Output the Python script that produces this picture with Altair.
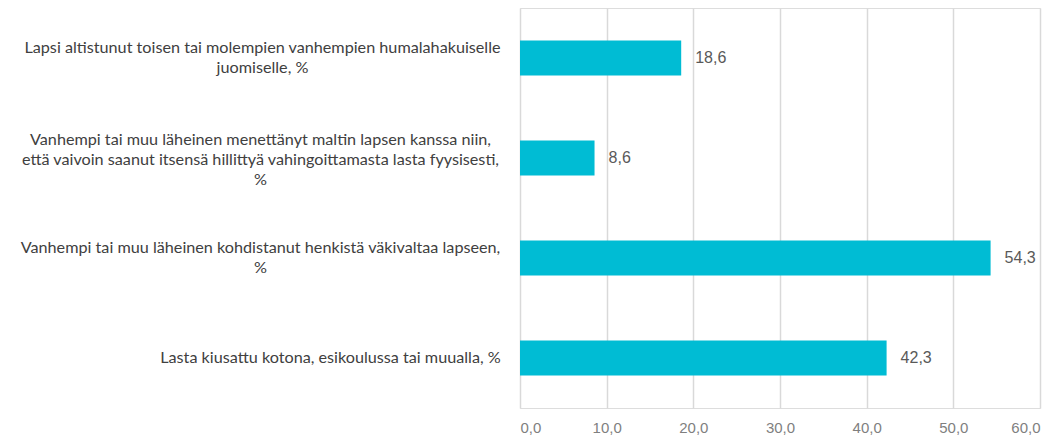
import altair as alt
import pandas as pd

categories = [
    "Lapsi altistunut toisen tai molempien vanhempien humalahakuiselle\njuomiselle, %",
    "Vanhempi tai muu läheinen menettänyt maltin lapsen kanssa niin,\nettä vaivoin saanut itsensä hillittyä vahingoittamasta lasta fyysisesti,\n%",
    "Vanhempi tai muu läheinen kohdistanut henkistä väkivaltaa lapseen,\n%",
    "Lasta kiusattu kotona, esikoulussa tai muualla, %",
]
values = [18.6, 8.6, 54.3, 42.3]
x_ticks = [0, 10, 20, 30, 40, 50, 60]

df = pd.DataFrame({"cat": categories, "val": values})

LINE_H = 20

base = alt.Chart(df).encode(
    y=alt.Y(
        "cat:N",
        sort=None,
        title=None,
        scale=alt.Scale(paddingInner=0.65, paddingOuter=0.325),
        axis=alt.Axis(
            labelExpr="split(datum.label, '\\n')",
            labelFont="Lato",
            labelFontSize=16.2,
            labelColor="#404040",
            labelLineHeight=LINE_H,
            labelLimit=600,
            labelAlign="center",
            labelPadding={
                "condition": [
                    {"test": "indexof(datum.value, 'Lapsi') == 0", "value": 258},
                    {"test": "indexof(datum.value, 'Lasta') == 0", "value": 190},
                ],
                "value": 260,
            },
            labelOffset={
                "condition": [
                    {"test": "length(split(datum.value, '\\n')) == 3", "value": -LINE_H + 2},
                    {"test": "length(split(datum.value, '\\n')) == 2", "value": -LINE_H / 2},
                ],
                "value": 0,
            },
            ticks=False,
            domain=False,
            grid=False,
            minExtent=512,
            maxExtent=512,
        ),
    ),
)

bars = base.mark_bar(color="#00bcd4").encode(
    x=alt.X(
        "val:Q",
        title=None,
        scale=alt.Scale(domain=[0, 60], nice=False),
        axis=alt.Axis(
            values=x_ticks,
            labelExpr="replace(format(datum.value, '.1f'), '.', ',')",
            labelFont="Liberation Sans",
            labelFontSize=15,
            labelColor="#7f7f7f",
            labelPadding=12,
            ticks=False,
            domain=False,
            grid=True,
            gridColor="#d9d9d9",
            gridWidth=1.5,
        ),
    )
)

labels = base.mark_text(
    align="left", dx=14, font="Liberation Sans", fontSize=16, color="#595959"
).transform_calculate(
    lab="replace(format(datum.val, '.1f'), '.', ',')"
).encode(x="val:Q", text="lab:N")

chart = (
    alt.layer(bars, labels)
    .properties(width=520, height=400, padding={"left": 0, "top": 0, "right": 10, "bottom": 5})
    .configure_view(stroke=None)
    .configure(background="white")
)

chart.save("out.html", embed_options={"renderer": "svg", "actions": False})
